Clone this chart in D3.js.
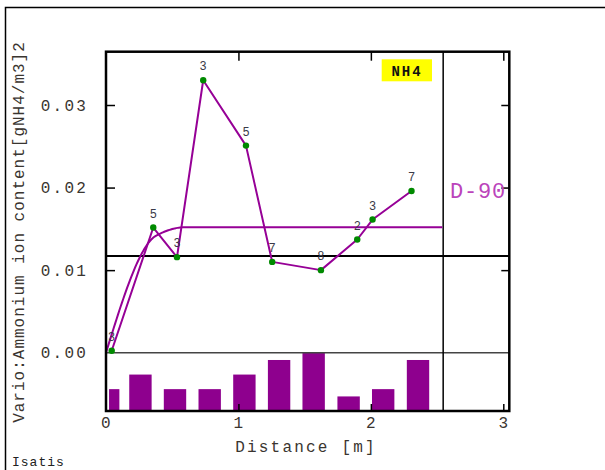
<!DOCTYPE html>
<html>
<head>
<meta charset="utf-8">
<script src="https://cdn.jsdelivr.net/npm/d3@7"></script>
<style>
  html, body { margin: 0; padding: 0; background: #fff; }
  svg { display: block; }
</style>
</head>
<body>
<svg id="chart" width="605" height="470"></svg>
<script>
// ---- data ----
const distances   = [0.043, 0.357, 0.536, 0.734, 1.057, 1.255, 1.623, 1.897, 2.013, 2.307];
const gammas      = [0.00024, 0.01516, 0.01157, 0.0330, 0.02508, 0.0110, 0.0100, 0.01371, 0.01613, 0.01959];
const pairCounts  = [3, 5, 3, 3, 5, 7, 8, 2, 3, 7];
const lagCenters  = [0.062, 0.260, 0.521, 0.783, 1.045, 1.307, 1.568, 1.832, 2.093, 2.356];
const modelStructures = [ { type: "spherical", range: 0.38, sill: 0.0095 },
                          { type: "spherical", range: 0.60, sill: 0.0057 } ];
const modelMaxDistance = 2.546;
const variance = 0.0117;
const xTicks = [0, 1, 2, 3];
const yTicks = [0.00, 0.01, 0.02, 0.03];
const variableName = "NH4";
const directionName = "D-90";
const xLabel = "Distance [m]";
const yLabel = "Vario:Ammonium ion content[gNH4/m3]2";
const footer = "Isatis";

// ---- layout ----
const L = 106, R = 509.3, T = 51.7, B = 411;
const x = d3.scaleLinear().domain([0, 3]).range([L, 503.3]);
const y = d3.scaleLinear().domain([0, 0.03]).range([352.7, 105]);
const yBar = d3.scaleLinear().domain([0, d3.max(pairCounts)]).range([B, y(0)]);

const svg = d3.select("#chart");
const purple = "#960096";
const mono = "'Liberation Mono', 'DejaVu Sans Mono', monospace";
const txtCol = "#3a3530";

// outer frame
svg.append("path").attr("d", "M5.5,480 V7.5 H610")
  .attr("fill", "none").attr("stroke", "#000").attr("stroke-width", 1.5);

// pair-count bars
const barW = i => i === 0 ? 0.078 : 0.169;
svg.append("g").selectAll("rect").data(pairCounts).join("rect")
  .attr("x", (d, i) => x(lagCenters[i] - barW(i) / 2))
  .attr("width", (d, i) => x(barW(i)) - x(0))
  .attr("y", d => yBar(d))
  .attr("height", d => B - yBar(d))
  .attr("fill", "#8e008e");

// zero line
svg.append("line").attr("x1", L).attr("x2", R).attr("y1", y(0)).attr("y2", y(0))
  .attr("stroke", "#444").attr("stroke-width", 1.5);
// variance line
svg.append("line").attr("x1", L).attr("x2", R).attr("y1", y(variance)).attr("y2", y(variance))
  .attr("stroke", "#000").attr("stroke-width", 2);
// vertical limit line
svg.append("line").attr("x1", x(modelMaxDistance)).attr("x2", x(modelMaxDistance))
  .attr("y1", T).attr("y2", B).attr("stroke", "#000").attr("stroke-width", 1.5);

// model
function sph(h, a) { if (h >= a) return 1; const r = h / a; return 1.5 * r - 0.5 * r * r * r; }
const modelPts = d3.range(0, modelMaxDistance + 1e-9, 0.01).map(h =>
  [h, d3.sum(modelStructures, s => s.sill * sph(h, s.range))]);
svg.append("path").datum(modelPts)
  .attr("d", d3.line().x(d => x(d[0])).y(d => y(d[1])))
  .attr("fill", "none").attr("stroke", purple).attr("stroke-width", 2);

// experimental variogram
const pts = distances.map((d, i) => ({ d, g: gammas[i], n: pairCounts[i] }));
svg.append("path").datum(pts)
  .attr("d", d3.line().x(p => x(p.d)).y(p => y(p.g)))
  .attr("fill", "none").attr("stroke", purple).attr("stroke-width", 2).attr("stroke-linejoin", "round");
svg.append("g").selectAll("circle").data(pts).join("circle")
  .attr("cx", p => x(p.d)).attr("cy", p => y(p.g)).attr("r", 3.2).attr("fill", "#008a00");
svg.append("g").selectAll("text").data(pts).join("text")
  .attr("x", p => x(p.d)).attr("y", p => y(p.g) - 10)
  .attr("text-anchor", "middle")
  .attr("font-family", "'Liberation Sans', Arial, sans-serif").attr("font-size", 12)
  .attr("fill", "#3a3a48").text(p => p.n);

// plot frame
svg.append("rect").attr("x", L).attr("y", T).attr("width", R - L).attr("height", B - T)
  .attr("fill", "none").attr("stroke", "#000").attr("stroke-width", 2.5);

// axes (inward ticks)
const tickStyle = g => g.selectAll("line").attr("stroke", "#000").attr("stroke-width", 1.5);
const axB = svg.append("g").attr("transform", `translate(0,${B})`)
  .call(d3.axisTop(x).tickValues(xTicks.slice(1)).tickSize(7).tickFormat(""));
const axT = svg.append("g").attr("transform", `translate(0,${T})`)
  .call(d3.axisBottom(x).tickValues(xTicks.slice(1)).tickSize(9).tickFormat(""));
const axL = svg.append("g").attr("transform", `translate(${L},0)`)
  .call(d3.axisRight(y).tickValues(yTicks.slice(1)).tickSize(9).tickFormat(""));
const axR = svg.append("g").attr("transform", `translate(${R},0)`)
  .call(d3.axisLeft(y).tickValues(yTicks.slice(1)).tickSize(8).tickFormat(""));
[axB, axT, axL, axR].forEach(g => { g.select(".domain").remove(); tickStyle(g); });

// tick labels
svg.append("g").selectAll("text").data(xTicks).join("text")
  .attr("x", d => x(d) + 1).attr("y", 428).attr("text-anchor", "middle")
  .attr("font-family", mono).attr("font-size", 16).attr("letter-spacing", 2.2)
  .attr("fill", txtCol).text(d => d);
svg.append("g").selectAll("text").data(yTicks).join("text")
  .attr("x", 88).attr("y", d => y(d) + 5.5).attr("text-anchor", "end")
  .attr("font-family", mono).attr("font-size", 16).attr("letter-spacing", 2.2)
  .attr("fill", txtCol).text(d => d3.format(".2f")(d));

// axis titles
svg.append("text").attr("x", 306).attr("y", 452).attr("text-anchor", "middle")
  .attr("font-family", mono).attr("font-size", 16).attr("letter-spacing", 2.2)
  .attr("fill", txtCol).text(xLabel);
svg.append("text").attr("transform", "translate(24,232) rotate(-90)").attr("text-anchor", "middle")
  .attr("font-family", mono).attr("font-size", 16).attr("letter-spacing", 1)
  .attr("fill", txtCol).text(yLabel);

// footer
svg.append("text").attr("x", 12).attr("y", 466)
  .attr("font-family", mono).attr("font-size", 13).attr("letter-spacing", 1)
  .attr("fill", "#222").text(footer);

// variable label
svg.append("rect").attr("x", 381.7).attr("y", 59.3).attr("width", 50.3).attr("height", 22)
  .attr("fill", "#ffff00");
svg.append("text").attr("x", 407).attr("y", 75.5).attr("text-anchor", "middle")
  .attr("font-family", mono).attr("font-weight", "bold").attr("font-size", 14).attr("letter-spacing", 2)
  .attr("fill", "#111").text(variableName);

// direction label
svg.append("text").attr("x", 450).attr("y", 197.5)
  .attr("font-family", mono).attr("font-size", 22).attr("letter-spacing", 0.8)
  .attr("fill", "#bb44bb").text(directionName);
</script>
</body>
</html>
